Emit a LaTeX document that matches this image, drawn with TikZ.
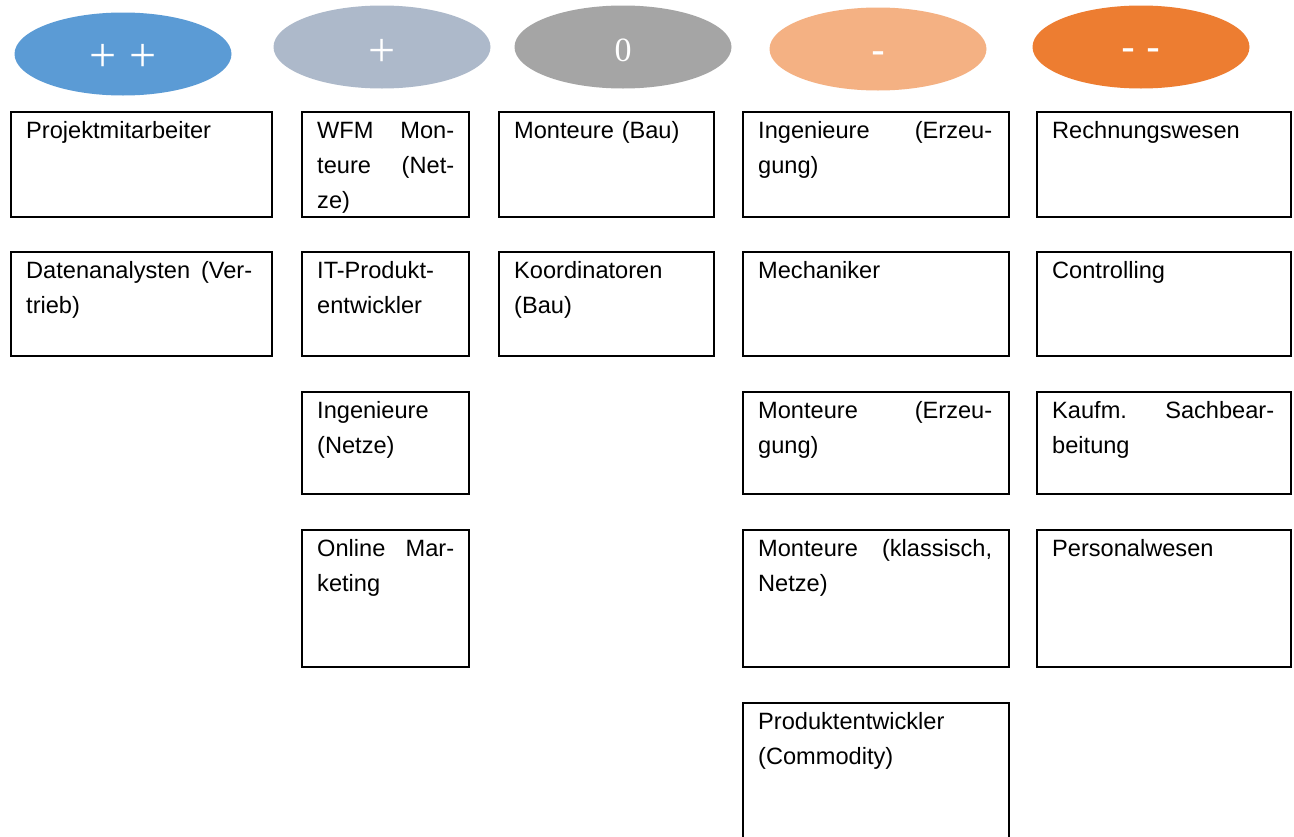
\documentclass[tikz,border=0pt]{standalone}
\usepackage{fontspec}
\setmainfont{Liberation Sans}
\newfontfamily\labserif{Liberation Serif}
\definecolor{ppblue}{HTML}{5B9BD5}
\definecolor{pgray}{HTML}{ADB9CA}
\definecolor{zgray}{HTML}{A5A5A5}
\definecolor{mpeach}{HTML}{F4B183}
\definecolor{mmorange}{HTML}{ED7D31}
\begin{document}
\begin{tikzpicture}[x=1pt,y=-1pt,
  oval/.style={ellipse, minimum width=217pt, minimum height=83pt, inner sep=0pt, draw=none, text=white},
  serlab/.style={font=\labserif\fontsize{48}{48}\selectfont},
  numlab/.style={font=\labserif\fontsize{34}{34}\selectfont},
  sanlab/.style={font=\fontsize{42}{42}\selectfont},
  box/.style={draw=black, line width=2pt, anchor=north west, inner sep=0pt},
  lbl/.style={anchor=north west, inner sep=0pt, align=left, font=\fontsize{23.6}{35}\selectfont}
]
\usetikzlibrary{shapes.geometric}
\useasboundingbox (0,0) rectangle (1294,836);
\fill[white] (0,0) rectangle (1294,836);

% header ovals
\node[oval, fill=ppblue]   (o1) at (123,54) {};
\node[oval, fill=pgray]    (o2) at (382,47) {};
\node[oval, fill=zgray]    (o3) at (623,47) {};
\node[oval, fill=mpeach]   (o4) at (878,49) {};
\node[oval, fill=mmorange] (o5) at (1141,47) {};
\node[serlab, text=white] (l1) at (123,58) {+ +};
\node[serlab, text=white] (l2) at (382,53) {+};
\node[numlab, text=white] (l3) at (623,50) {0};
\node[sanlab, text=white] (l4) at (878,58) {-};
\node[sanlab, text=white] (l5) at (1141,55) {- -};

% column 1
\node[box, minimum width=261pt, minimum height=105pt] (a1) at (10,111) {};
\node[box, minimum width=261pt, minimum height=104pt] (a2) at (10,251) {};
\node[lbl, text width=226pt] (ta1) at ([shift={(16,7.5)}]a1.north west) {\rule{0pt}{20pt}Projektmitarbeiter};
\node[lbl, text width=226pt] (ta2) at ([shift={(16,7.5)}]a2.north west) {\rule{0pt}{20pt}Datenanalysten\hfill(Ver-\\trieb)};

% column 2
\node[box, minimum width=167pt, minimum height=105pt] (b1) at (301,111) {};
\node[box, minimum width=167pt, minimum height=104pt] (b2) at (301,251) {};
\node[box, minimum width=167pt, minimum height=102pt] (b3) at (301,391) {};
\node[box, minimum width=167pt, minimum height=137pt] (b4) at (301,529) {};
\node[lbl, text width=137pt] (tb1) at ([shift={(16,7.5)}]b1.north west) {\rule{0pt}{20pt}WFM\hfill Mon-\\teure\hfill (Net-\\ze)};
\node[lbl, text width=137pt] (tb2) at ([shift={(16,7.5)}]b2.north west) {\rule{0pt}{20pt}IT-Produkt-\\entwickler};
\node[lbl, text width=137pt] (tb3) at ([shift={(16,7.5)}]b3.north west) {\rule{0pt}{20pt}Ingenieure\\(Netze)};
\node[lbl, text width=137pt] (tb4) at ([shift={(16,7.5)}]b4.north west) {\rule{0pt}{20pt}Online\hfill Mar-\\keting};

% column 3
\node[box, minimum width=215pt, minimum height=105pt] (c1) at (498,111) {};
\node[box, minimum width=215pt, minimum height=104pt] (c2) at (498,251) {};
\node[lbl, text width=184pt] (tc1) at ([shift={(16,7.5)}]c1.north west) {\rule{0pt}{20pt}Monteure (Bau)};
\node[lbl, text width=184pt] (tc2) at ([shift={(16,7.5)}]c2.north west) {\rule{0pt}{20pt}Koordinatoren\\(Bau)};

% column 4
\node[box, minimum width=266pt, minimum height=105pt] (d1) at (742,111) {};
\node[box, minimum width=266pt, minimum height=104pt] (d2) at (742,251) {};
\node[box, minimum width=266pt, minimum height=102pt] (d3) at (742,391) {};
\node[box, minimum width=266pt, minimum height=137pt] (d4) at (742,529) {};
\node[box, minimum width=266pt, minimum height=150pt] (d5) at (742,702) {};
\node[lbl, text width=234pt] (td1) at ([shift={(16,7.5)}]d1.north west) {\rule{0pt}{20pt}Ingenieure\hfill (Erzeu-\\gung)};
\node[lbl, text width=234pt] (td2) at ([shift={(16,7.5)}]d2.north west) {\rule{0pt}{20pt}Mechaniker};
\node[lbl, text width=234pt] (td3) at ([shift={(16,7.5)}]d3.north west) {\rule{0pt}{20pt}Monteure\hfill (Erzeu-\\gung)};
\node[lbl, text width=234pt] (td4) at ([shift={(16,7.5)}]d4.north west) {\rule{0pt}{20pt}Monteure\hfill (klassisch,\\Netze)};
\node[lbl, text width=234pt] (td5) at ([shift={(16,7.5)}]d5.north west) {\rule{0pt}{20pt}Produktentwickler\\(Commodity)};

% column 5
\node[box, minimum width=254pt, minimum height=105pt] (e1) at (1036,111) {};
\node[box, minimum width=254pt, minimum height=104pt] (e2) at (1036,251) {};
\node[box, minimum width=254pt, minimum height=102pt] (e3) at (1036,391) {};
\node[box, minimum width=254pt, minimum height=137pt] (e4) at (1036,529) {};
\node[lbl, text width=222pt] (te1) at ([shift={(16,7.5)}]e1.north west) {\rule{0pt}{20pt}Rechnungswesen};
\node[lbl, text width=222pt] (te2) at ([shift={(16,7.5)}]e2.north west) {\rule{0pt}{20pt}Controlling};
\node[lbl, text width=222pt] (te3) at ([shift={(16,7.5)}]e3.north west) {\rule{0pt}{20pt}Kaufm.\hfill Sachbear-\\beitung};
\node[lbl, text width=222pt] (te4) at ([shift={(16,7.5)}]e4.north west) {\rule{0pt}{20pt}Personalwesen};
\end{tikzpicture}
\end{document}
